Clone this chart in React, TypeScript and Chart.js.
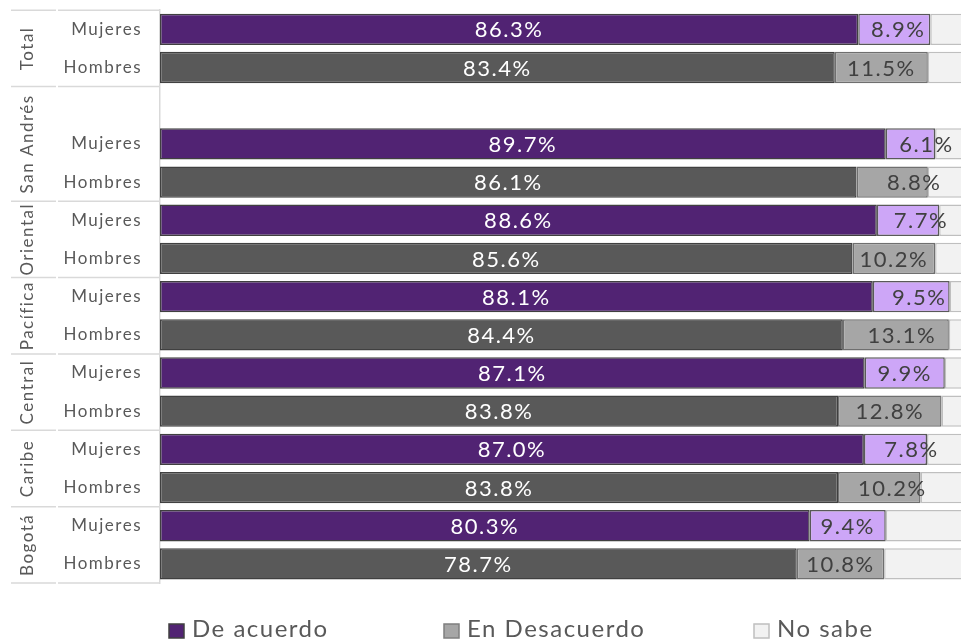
import { useEffect, useRef } from 'react';
import { Chart, registerables } from 'chart.js';

Chart.register(...registerables);

// ---- data ----
const groups = ['Total', 'San Andrés', 'Oriental', 'Pacífica', 'Central', 'Caribe', 'Bogotá'];
const groupSizes = [2, 3, 2, 2, 2, 2, 2];
const rowLabels = [
  'Mujeres', 'Hombres',
  '', 'Mujeres', 'Hombres',
  'Mujeres', 'Hombres',
  'Mujeres', 'Hombres',
  'Mujeres', 'Hombres',
  'Mujeres', 'Hombres',
  'Mujeres', 'Hombres',
];
const seriesNames = ['De acuerdo', 'En Desacuerdo', 'No sabe'];
const deAcuerdo = [86.3, 83.4, null, 89.7, 86.1, 88.6, 85.6, 88.1, 84.4, 87.1, 83.8, 87.0, 83.8, 80.3, 78.7];
const enDesacuerdo = [8.9, 11.5, null, 6.1, 8.8, 7.7, 10.2, 9.5, 13.1, 9.9, 12.8, 7.8, 10.2, 9.4, 10.8];
const noSabe = [4.8, 5.1, null, 4.2, 5.1, 3.7, 4.2, 2.4, 2.5, 3.0, 3.4, 5.2, 6.0, 10.3, 10.5];

// label nudges (px) for the "En Desacuerdo" labels, as placed in the original
const labelNudge = [4, 0, 0, 16, 22, 13, 0, 8, 6, 0, 0, 16, 13, 0, 0];

// ---- styles ----
const FONT = 'Lato, "Open Sans", sans-serif';
const PURPLE = '#512373';
const DARK = '#595959';
const LILAC = '#CDA6F7';
const GREY = '#A6A6A6';
const LIGHT = '#F2F2F2';

const isW = (i: number) => rowLabels[i] === 'Mujeres';

const decorPlugin = {
  id: 'decor',
  beforeDraw(chart: any) {
    chart.ctx.letterSpacing = '1.5px';
  },
  afterDraw(chart: any) {
    const ctx = chart.ctx as CanvasRenderingContext2D;
    const y = chart.scales.y;
    const n = rowLabels.length;
    const band = (y.bottom - y.top) / n;
    ctx.save();
    (ctx as any).letterSpacing = '1.5px';

    // group separators
    ctx.strokeStyle = '#D9D9D9';
    ctx.lineWidth = 1.5;
    let idx = 0;
    const bounds = [0];
    groupSizes.forEach((s) => { idx += s; bounds.push(idx); });
    bounds.forEach((b) => {
      const yy = y.top + b * band;
      ctx.beginPath();
      ctx.moveTo(11, yy);
      ctx.lineTo(56, yy);
      ctx.moveTo(58, yy);
      ctx.lineTo(chart.chartArea.left, yy);
      ctx.stroke();
    });

    // group labels (rotated)
    ctx.fillStyle = DARK;
    ctx.font = `17px ${FONT}`;
    ctx.textAlign = 'center';
    ctx.textBaseline = 'middle';
    groups.forEach((g, gi) => {
      const cy = y.top + ((bounds[gi] + bounds[gi + 1]) / 2) * band;
      ctx.save();
      ctx.translate(28, cy);
      ctx.rotate(-Math.PI / 2);
      ctx.fillText(g, 0, 0);
      ctx.restore();
    });

    // data labels
    ctx.font = `22px ${FONT}`;
    ctx.textAlign = 'center';
    ctx.textBaseline = 'middle';
    [0, 1].forEach((d) => {
      const meta = chart.getDatasetMeta(d);
      const vals = d === 0 ? deAcuerdo : enDesacuerdo;
      meta.data.forEach((el: any, i: number) => {
        const v = vals[i];
        if (v == null) return;
        const cx = (el.x + el.base) / 2 + (d === 1 ? labelNudge[i] : 0);
        ctx.fillStyle = d === 0 ? '#FFFFFF' : '#404040';
        ctx.fillText(v.toFixed(1) + '%', cx, el.y + 1);
      });
    });

    // legend
    const items = [
      { x: 168, fill: PURPLE, stroke: '#404040' },
      { x: 443, fill: GREY, stroke: '#7F7F7F' },
      { x: 753, fill: LIGHT, stroke: '#BFBFBF' },
    ];
    ctx.font = `24px ${FONT}`;
    ctx.textAlign = 'left';
    ctx.textBaseline = 'alphabetic';
    items.forEach((it, k) => {
      ctx.fillStyle = it.fill;
      ctx.strokeStyle = it.stroke;
      ctx.lineWidth = 1.5;
      ctx.fillRect(it.x + 1, 624, 15, 14);
      ctx.strokeRect(it.x + 1, 624, 15, 14);
      ctx.fillStyle = DARK;
      ctx.fillText(seriesNames[k], it.x + 24, 637);
    });
    ctx.restore();
  },
};

export default function App() {
  const ref = useRef<HTMLCanvasElement | null>(null);
  useEffect(() => {
    if (!ref.current) return;
    const chart = new Chart(ref.current, {
      type: 'bar',
      data: {
        labels: rowLabels,
        datasets: [
          {
            label: seriesNames[0],
            data: deAcuerdo as any,
            backgroundColor: rowLabels.map((_, i) => (isW(i) ? PURPLE : DARK)),
            borderColor: '#404040',
          },
          {
            label: seriesNames[1],
            data: enDesacuerdo as any,
            backgroundColor: rowLabels.map((_, i) => (isW(i) ? LILAC : GREY)),
            borderColor: rowLabels.map((_, i) => (isW(i) ? '#595959' : '#6F6F6F')),
          },
          {
            label: seriesNames[2],
            data: noSabe as any,
            backgroundColor: LIGHT,
            borderColor: '#BFBFBF',
          },
        ],
      },
      options: {
        indexAxis: 'y',
        animation: false,
        responsive: false,
        maintainAspectRatio: false,
        layout: { padding: { top: 8, bottom: 57, left: 0, right: 0 } },
        datasets: {
          bar: {
            categoryPercentage: 1,
            barPercentage: 0.82,
            borderWidth: 1.5,
            borderSkipped: false,
          },
        },
        scales: {
          x: { stacked: true, min: 0, max: 99, display: false },
          y: {
            stacked: true,
            grid: { display: false, drawTicks: true, tickLength: 18 },
            border: { display: true, color: '#D9D9D9', width: 1.5 },
            ticks: {
              color: DARK,
              font: { family: FONT, size: 17 },
              padding: 0,
              autoSkip: false,
            },
            afterFit(scale: any) {
              scale.width = 160;
            },
          },
        },
        plugins: {
          legend: { display: false },
          tooltip: { enabled: false },
        },
      },
      plugins: [decorPlugin],
    });
    return () => chart.destroy();
  }, []);
  return (
    <div style={{ position: 'absolute', left: 0, top: 0, width: 961, height: 640, background: '#fff' }}>
      <canvas ref={ref} width={961} height={640} style={{ width: 961, height: 640, display: 'block' }} />
    </div>
  );
}
